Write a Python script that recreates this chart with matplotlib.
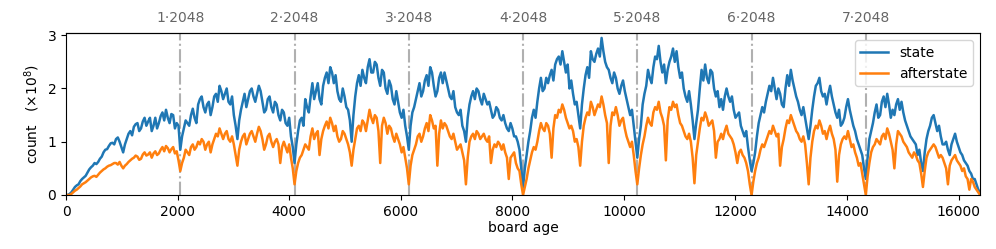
import numpy as np
import matplotlib
matplotlib.use("Agg")
import matplotlib.pyplot as plt

# counts (x1e8) read every 64 moves of board age, one list per 2048 block;
# the *_mid lists hold the readings halfway between (age + 32)
step = 64
block = 2048

state_b0 = [0.0, 0.02, 0.1, 0.18, 0.26, 0.33, 0.42, 0.52, 0.6, 0.62, 0.72, 0.85, 0.92, 0.98, 1.05, 1.0,
            0.8, 1.05, 1.2, 1.28, 1.35, 1.25, 1.45, 1.38, 1.2, 1.45, 1.35, 1.55, 1.6, 1.35, 1.5, 1.35]
state_b1 = [0.85, 1.25, 1.35, 1.5, 1.45, 1.7, 1.85, 1.55, 1.75, 1.65, 1.9, 2.05, 1.8, 2.0, 1.7, 1.5,
            1.05, 1.6, 1.9, 1.8, 2.0, 1.75, 2.05, 1.75, 1.6, 1.85, 1.55, 1.7, 1.4, 1.55, 1.3, 1.1]
state_b2 = [0.6, 1.2, 1.45, 1.8, 1.55, 2.1, 1.95, 1.8, 2.05, 2.3, 2.4, 2.1, 1.95, 1.75, 1.85, 1.6,
            1.0, 1.85, 2.25, 2.35, 2.1, 2.55, 2.3, 2.45, 2.05, 2.3, 1.9, 2.05, 1.7, 1.75, 1.45, 1.3]
state_b3 = [0.85, 1.55, 1.8, 2.1, 1.95, 2.25, 2.4, 2.05, 1.95, 2.3, 2.3, 2.0, 1.8, 1.65, 1.5, 1.3,
            1.0, 1.7, 1.95, 2.0, 1.8, 1.9, 1.7, 1.6, 1.5, 1.6, 1.4, 1.35, 1.2, 1.25, 1.1, 0.85]
state_b4 = [0.15, 0.75, 1.2, 1.6, 1.75, 2.2, 2.0, 2.1, 2.35, 2.45, 2.6, 2.7, 2.3, 2.0, 1.9, 1.75,
            1.25, 2.0, 2.4, 2.7, 2.5, 2.75, 2.95, 2.5, 2.35, 2.1, 2.2, 1.9, 2.15, 1.8, 1.5, 1.3]
state_b5 = [0.7, 1.3, 1.9, 2.35, 2.1, 2.6, 2.8, 2.3, 2.1, 2.5, 2.75, 2.7, 2.2, 2.0, 1.75, 1.7,
            1.05, 1.6, 2.35, 2.45, 2.1, 2.3, 1.85, 1.65, 1.6, 2.0, 1.75, 1.6, 1.5, 1.3, 1.1, 0.9]
state_b6 = [0.45, 0.8, 1.35, 1.65, 1.75, 2.05, 2.2, 1.8, 1.9, 1.65, 2.25, 2.35, 2.0, 1.75, 1.5, 1.45,
            1.05, 1.6, 2.05, 2.2, 1.85, 1.7, 2.05, 1.7, 1.45, 1.3, 1.45, 1.8, 1.45, 1.2, 0.95, 0.75]
state_b7 = [0.3, 1.05, 1.35, 1.7, 1.5, 1.85, 1.9, 1.45, 1.5, 1.8, 1.75, 1.4, 1.2, 1.05, 0.95, 0.85,
            0.45, 1.05, 1.3, 1.5, 1.2, 1.1, 0.95, 0.85, 0.95, 1.15, 0.9, 0.75, 0.6, 0.45, 0.3, 0.2]
state_end = 0.05

state_mid_b0 = [0.0, 0.05, 0.15, 0.2, 0.3, 0.36, 0.48, 0.55, 0.58, 0.68, 0.8, 0.86, 0.97, 0.95, 1.08, 0.9,
                0.95, 1.15, 1.12, 1.33, 1.2, 1.38, 1.3, 1.45, 1.3, 1.25, 1.48, 1.4, 1.45, 1.52, 1.25, 1.3]
state_mid_b1 = [1.1, 1.4, 1.3, 1.62, 1.35, 1.8, 1.65, 1.7, 1.5, 1.85, 1.75, 1.95, 1.9, 1.75, 1.85, 1.3,
                1.4, 1.75, 1.65, 1.95, 1.85, 1.9, 1.95, 1.55, 1.8, 1.65, 1.75, 1.5, 1.6, 1.35, 1.45, 0.9]
state_mid_b2 = [0.95, 1.4, 1.3, 1.65, 1.85, 1.8, 2.1, 1.7, 2.2, 2.1, 2.3, 2.25, 1.8, 2.0, 1.65, 1.4,
                1.5, 2.1, 2.05, 2.2, 2.4, 2.3, 2.5, 2.2, 2.35, 2.0, 2.15, 1.8, 1.95, 1.55, 1.6, 1.1]
state_mid_b3 = [1.3, 1.65, 1.95, 1.85, 2.15, 2.05, 2.3, 1.85, 2.2, 2.1, 2.15, 1.85, 1.95, 1.55, 1.6, 1.2,
                1.45, 1.85, 1.8, 1.95, 1.7, 1.8, 1.75, 1.45, 1.65, 1.45, 1.5, 1.25, 1.35, 1.1, 1.0, 0.5]
state_mid_b4 = [0.5, 1.0, 1.45, 1.45, 2.0, 1.95, 2.2, 2.25, 2.15, 2.55, 2.45, 2.5, 2.45, 2.15, 1.7, 1.5,
                1.7, 2.25, 2.2, 2.55, 2.65, 2.6, 2.7, 2.4, 2.2, 2.3, 2.0, 2.05, 1.95, 1.65, 1.6, 1.0]
state_mid_b5 = [1.05, 1.7, 2.05, 2.2, 2.4, 2.55, 2.5, 2.45, 2.35, 2.6, 2.5, 2.4, 2.3, 1.85, 1.95, 1.4,
                1.35, 2.0, 2.15, 2.2, 2.35, 2.0, 1.95, 1.8, 1.85, 1.85, 1.85, 1.45, 1.55, 1.2, 1.2, 0.65]
state_mid_b6 = [0.6, 1.1, 1.5, 1.55, 1.9, 1.95, 2.0, 2.0, 1.7, 2.0, 2.05, 2.15, 1.85, 1.6, 1.65, 1.25,
                1.3, 1.85, 2.1, 1.95, 1.9, 1.9, 1.85, 1.55, 1.6, 1.35, 1.65, 1.6, 1.3, 1.05, 0.85, 0.5]
state_mid_b7 = [0.7, 1.2, 1.55, 1.45, 1.75, 1.65, 1.7, 1.6, 1.7, 1.6, 1.55, 1.3, 1.1, 1.0, 0.75, 0.6,
                0.8, 1.2, 1.45, 1.35, 1.3, 0.95, 1.0, 0.75, 1.05, 1.0, 0.8, 0.65, 0.55, 0.4, 0.3, 0.1]

after_b0 = [0.0, 0.0, 0.05, 0.1, 0.16, 0.22, 0.27, 0.33, 0.36, 0.38, 0.45, 0.5, 0.55, 0.58, 0.6, 0.62,
            0.5, 0.58, 0.65, 0.7, 0.72, 0.68, 0.8, 0.76, 0.7, 0.82, 0.78, 0.9, 0.92, 0.8, 0.9, 0.82]
after_b1 = [0.45, 0.7, 0.8, 0.9, 0.85, 1.0, 1.05, 0.85, 1.0, 0.95, 1.15, 1.25, 1.05, 1.2, 1.0, 0.95,
            0.55, 1.0, 1.15, 1.05, 1.2, 1.0, 1.28, 1.05, 0.95, 1.15, 0.9, 1.05, 0.6, 1.0, 0.8, 0.7]
after_b2 = [0.2, 0.6, 0.75, 0.95, 0.85, 1.25, 1.15, 0.75, 1.2, 1.38, 1.45, 1.2, 1.1, 1.05, 1.15, 0.95,
            0.55, 1.05, 1.3, 1.4, 1.2, 1.6, 1.35, 1.45, 0.6, 1.45, 1.15, 1.25, 1.0, 1.05, 0.8, 0.7]
after_b3 = [0.2, 0.75, 0.95, 1.15, 1.1, 1.35, 1.5, 1.25, 0.55, 1.4, 1.35, 1.2, 1.05, 1.0, 0.9, 0.8,
            0.2, 1.0, 1.15, 1.2, 1.05, 1.15, 1.0, 0.6, 0.95, 1.0, 0.85, 0.8, 0.3, 0.75, 0.6, 0.45]
after_b4 = [0.0, 0.3, 0.65, 0.9, 1.0, 1.35, 1.2, 1.3, 0.7, 1.5, 1.6, 1.7, 1.45, 1.25, 1.2, 1.05,
            0.55, 1.3, 1.55, 1.75, 1.5, 1.7, 1.85, 1.5, 0.6, 1.55, 1.65, 1.3, 1.45, 1.1, 0.9, 0.75]
after_b5 = [0.2, 0.75, 1.1, 1.45, 1.3, 1.65, 1.75, 1.45, 0.65, 1.65, 1.75, 1.7, 1.35, 1.2, 1.05, 1.0,
            0.22, 1.0, 1.45, 1.55, 1.3, 1.4, 0.7, 1.05, 1.05, 1.3, 1.1, 0.95, 0.6, 0.85, 0.7, 0.45]
after_b6 = [0.0, 0.45, 0.7, 0.95, 1.0, 1.2, 1.3, 1.1, 0.55, 1.05, 1.4, 1.5, 1.3, 1.15, 1.0, 0.95,
            0.2, 1.0, 1.3, 1.4, 1.15, 1.05, 1.3, 1.05, 0.25, 0.95, 1.1, 1.2, 0.9, 0.8, 0.55, 0.4]
after_b7 = [0.0, 0.6, 0.9, 1.05, 0.95, 1.15, 1.25, 1.0, 0.5, 1.2, 1.1, 0.95, 0.8, 0.7, 0.75, 0.6,
            0.15, 0.7, 0.85, 0.95, 0.8, 0.75, 0.6, 0.2, 0.65, 0.75, 0.6, 0.45, 0.35, 0.1, 0.25, 0.1]
after_end = 0.0

after_mid_b0 = [0.0, 0.02, 0.08, 0.13, 0.2, 0.24, 0.3, 0.35, 0.34, 0.42, 0.48, 0.53, 0.56, 0.6, 0.57, 0.55,
                0.55, 0.62, 0.68, 0.74, 0.66, 0.76, 0.74, 0.8, 0.78, 0.75, 0.85, 0.82, 0.88, 0.86, 0.78, 0.65]
after_mid_b1 = [0.6, 0.85, 0.75, 0.95, 0.9, 0.95, 1.0, 0.95, 0.8, 1.05, 1.1, 1.15, 1.15, 1.05, 1.1, 0.75,
                0.85, 1.1, 0.95, 1.15, 1.1, 1.15, 1.2, 0.85, 1.1, 1.0, 1.0, 0.95, 0.9, 0.9, 0.95, 0.5]
after_mid_b2 = [0.45, 0.7, 0.85, 0.9, 1.1, 1.05, 1.2, 1.05, 1.3, 1.25, 1.35, 1.3, 1.0, 1.2, 1.05, 0.8,
                0.85, 1.25, 1.2, 1.35, 1.4, 1.45, 1.5, 1.2, 1.3, 1.35, 1.3, 1.1, 1.15, 0.95, 0.9, 0.5]
after_mid_b3 = [0.55, 0.85, 1.1, 1.0, 1.25, 1.2, 1.4, 1.3, 1.15, 1.25, 1.3, 1.1, 1.15, 0.85, 0.95, 0.65,
                0.7, 1.1, 1.05, 1.15, 1.1, 1.05, 1.1, 0.85, 0.9, 0.95, 0.95, 0.7, 0.7, 0.8, 0.5, 0.2]
after_mid_b4 = [0.15, 0.5, 0.8, 0.85, 1.2, 1.25, 1.35, 1.15, 1.25, 1.45, 1.55, 1.6, 1.35, 1.3, 1.0, 0.9,
                1.0, 1.45, 1.5, 1.65, 1.6, 1.65, 1.7, 1.35, 1.3, 1.5, 1.5, 1.4, 1.25, 1.0, 1.0, 0.45]
after_mid_b5 = [0.5, 0.95, 1.3, 1.35, 1.55, 1.6, 1.55, 1.3, 1.4, 1.6, 1.65, 1.5, 1.3, 1.1, 1.15, 0.7,
                0.75, 1.25, 1.4, 1.45, 1.35, 1.2, 1.0, 1.15, 1.2, 1.15, 1.05, 0.8, 0.8, 0.75, 0.6, 0.2]
after_mid_b6 = [0.25, 0.6, 0.85, 0.9, 1.1, 1.15, 1.2, 1.15, 0.9, 1.25, 1.35, 1.4, 1.2, 1.05, 1.1, 0.6,
                0.7, 1.2, 1.25, 1.3, 1.2, 1.2, 1.15, 0.85, 0.75, 1.05, 1.05, 1.05, 0.95, 0.7, 0.6, 0.2]
after_mid_b7 = [0.35, 0.8, 0.95, 1.0, 1.1, 1.05, 1.15, 0.85, 0.95, 1.15, 1.0, 0.9, 0.75, 0.8, 0.65, 0.4,
                0.45, 0.8, 0.9, 0.9, 0.7, 0.7, 0.5, 0.55, 0.7, 0.65, 0.55, 0.5, 0.3, 0.3, 0.15, 0.05]


def interleave(coarse, mid, last):
    # put each halfway reading after its coarse reading, then close with the final one
    out = []
    for a, b in zip(coarse, mid):
        out += [a, b]
    return np.array(out + [last])


state = interleave(state_b0 + state_b1 + state_b2 + state_b3 + state_b4 + state_b5 + state_b6 + state_b7,
                   state_mid_b0 + state_mid_b1 + state_mid_b2 + state_mid_b3 + state_mid_b4
                   + state_mid_b5 + state_mid_b6 + state_mid_b7, state_end)
afterstate = interleave(after_b0 + after_b1 + after_b2 + after_b3 + after_b4 + after_b5 + after_b6 + after_b7,
                        after_mid_b0 + after_mid_b1 + after_mid_b2 + after_mid_b3 + after_mid_b4
                        + after_mid_b5 + after_mid_b6 + after_mid_b7, after_end)
age = np.arange(len(state)) * (step // 2)

marks = [k * block for k in range(1, 8)]
mark_labels = [f"{k}\u00b72048" for k in range(1, 8)]

fig = plt.figure(figsize=(9.96, 2.49), dpi=100)
ax = fig.add_axes([0.0663, 0.217, 0.9177, 0.65])

for m in marks:
    ax.axvline(m, color="#b0b0b0", linestyle="-.", linewidth=1.5, zorder=0)

ax.plot(age, state, color="#1f77b4", linewidth=1.8, label="state")
ax.plot(age, afterstate, color="#ff7f0e", linewidth=1.8, label="afterstate")

ax.set_xlim(0, age[-1])
ax.set_ylim(0, 3.04)
ax.set_yticks([0, 1, 2, 3])
ax.set_xlabel("board age", labelpad=2)
ax.set_ylabel("count   ($\\times10^8$)")
ax.legend(loc="upper right")

top = ax.secondary_xaxis("top")
top.set_xticks(marks)
top.set_xticklabels(mark_labels, color="#666666")
top.tick_params(length=0, pad=6)

fig.savefig("out.png", dpi=100)
